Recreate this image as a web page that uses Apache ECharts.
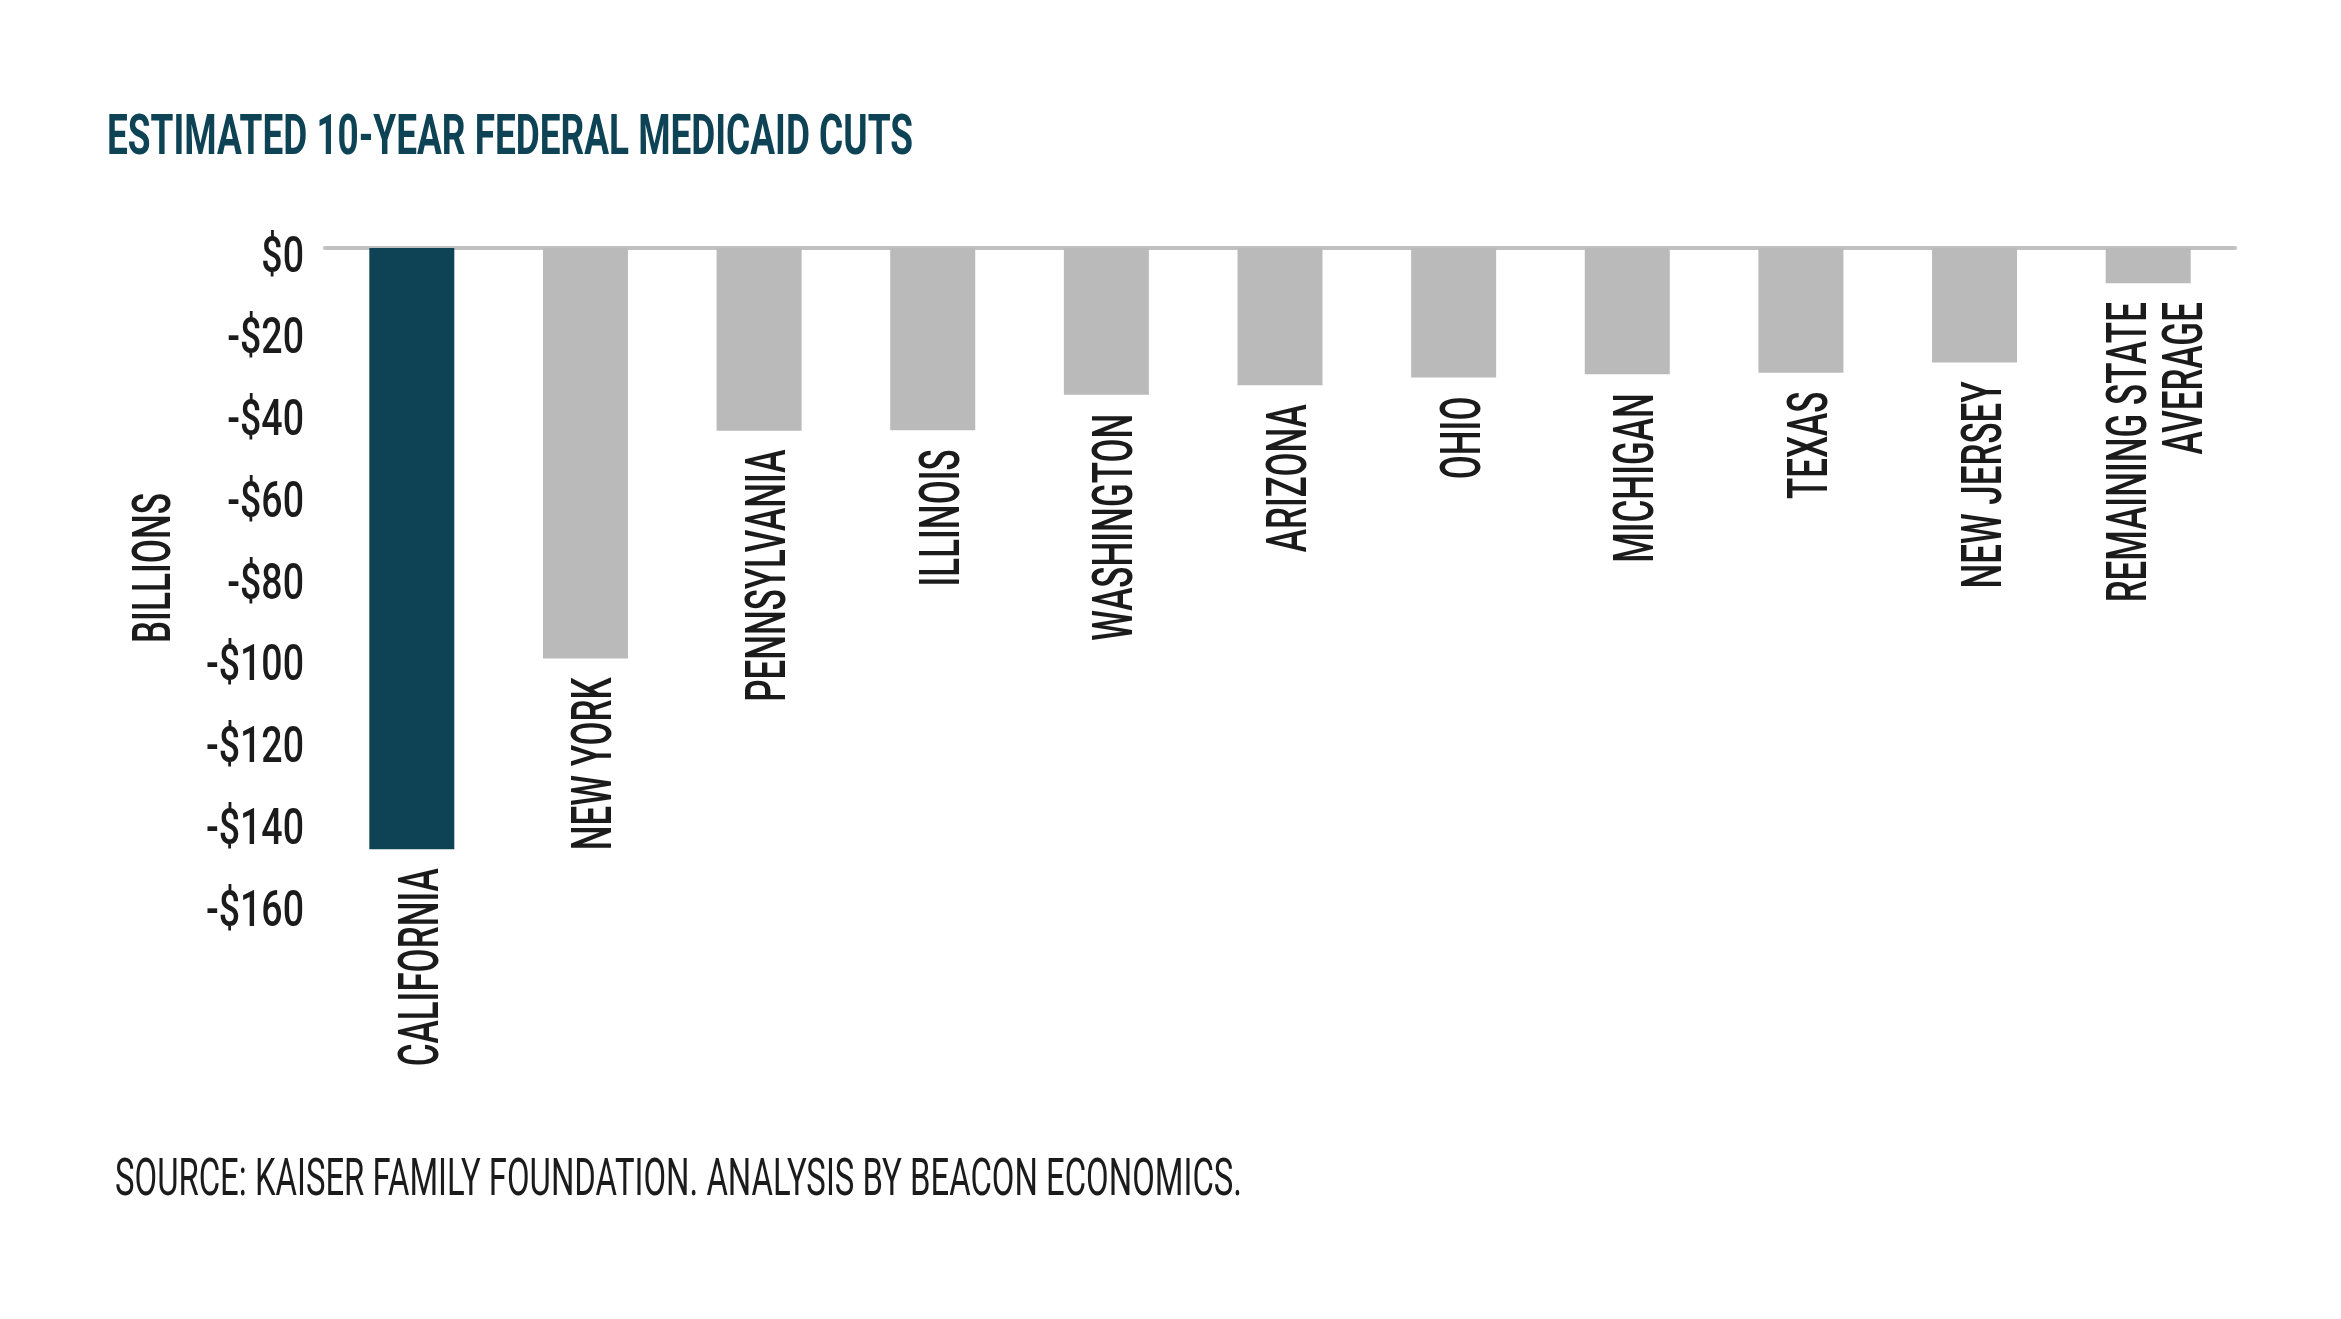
<!DOCTYPE html>
<html>
<head>
<meta charset="utf-8">
<script src="https://cdn.jsdelivr.net/npm/echarts@6/dist/echarts.min.js"></script>
<style>
  html, body { margin: 0; padding: 0; background: #ffffff; }
  #chart { width: 2341px; height: 1319px; }
</style>
</head>
<body>
<div id="chart"></div>
<script>
// ---- data ----
const titleText = 'ESTIMATED 10-YEAR FEDERAL MEDICAID CUTS';
const sourceText = 'SOURCE: KAISER FAMILY FOUNDATION. ANALYSIS BY BEACON ECONOMICS.';
const yAxisName = 'BILLIONS';
const categories = ['CALIFORNIA', 'NEW YORK', 'PENNSYLVANIA', 'ILLINOIS', 'WASHINGTON', 'ARIZONA', 'OHIO', 'MICHIGAN', 'TEXAS', 'NEW JERSEY', 'REMAINING STATE\nAVERAGE'];
const cuts = [-147.1, -100.4, -44.7, -44.6, -35.9, -33.6, -31.7, -30.9, -30.5, -28.0, -8.6];
const highlighted = ['CALIFORNIA'];
const yTicks = [0, -20, -40, -60, -80, -100, -120, -140, -160];
const yTickLabels = ['$0', '-$20', '-$40', '-$60', '-$80', '-$100', '-$120', '-$140', '-$160'];

// ---- styling ----
const FAMILY = "'Liberation Sans Narrow', 'Roboto', sans-serif";
const TEXT = '#1b1b1b';
const TEAL = '#0e4356';
const GRAY = '#bababa';

const mctx = document.createElement('canvas').getContext('2d');
function measure(text, size, weight) {
  mctx.font = weight + ' ' + size + 'px ' + FAMILY;
  return mctx.measureText(text).width;
}
// condensed look: horizontal squeeze computed from target widths
const catSize = 56, tickSize = 50, titleSize = 55, srcSize = 52, nameSize = 54;
const LABEL_W = 500;
const catScale = 198 / measure('CALIFORNIA', catSize, LABEL_W);
const tickScale = 98 / measure('-$160', tickSize, LABEL_W);
const titleScale = 806 / measure(titleText, titleSize, 'bold');
const srcScale = 1127 / measure(sourceText, srcSize, 'normal');
const nameScale = 150 / measure(yAxisName, nameSize, LABEL_W);

const chart = echarts.init(document.getElementById('chart'));

const option = {
  backgroundColor: '#ffffff',
  animation: false,
  grid: { left: 325, top: 248, width: 1910, height: 654, containLabel: false },
  xAxis: {
    type: 'category',
    data: categories,
    axisLine: { show: true, onZero: true, lineStyle: { color: '#c0c0c0', width: 4 } },
    axisTick: { show: false },
    axisLabel: { show: false },
    splitLine: { show: false }
  },
  yAxis: {
    type: 'value',
    min: -160,
    max: 0,
    interval: 20,
    axisLine: { show: false },
    axisTick: { show: false },
    axisLabel: { show: false },
    splitLine: { show: false }
  },
  graphic: [
    {
      type: 'text', x: 107, y: 140, scaleX: titleScale,
      style: { text: titleText, fontFamily: FAMILY, fontSize: titleSize, fontWeight: 'bold', fill: TEAL, align: 'left', verticalAlign: 'middle' }
    },
    {
      type: 'text', x: 115, y: 1182, scaleX: srcScale,
      style: { text: sourceText, fontFamily: FAMILY, fontSize: srcSize, fontWeight: 'normal', fill: TEXT, align: 'left', verticalAlign: 'middle' }
    },
    {
      type: 'text', x: 156, y: 568, rotation: Math.PI / 2, scaleX: nameScale,
      style: { text: yAxisName, fontFamily: FAMILY, fontSize: nameSize, fontWeight: LABEL_W, fill: TEXT, align: 'center', verticalAlign: 'middle' }
    }
  ],
  series: [
    {
      type: 'bar',
      barWidth: 85,
      z: 1,
      data: cuts.map((v, i) => ({
        value: v,
        itemStyle: { color: highlighted.includes(categories[i]) ? TEAL : GRAY }
      }))
    },
    {
      // category labels placed just below each bar end
      type: 'custom',
      clip: false,
      silent: true,
      z: 5,
      data: cuts.map((v, i) => [i, v]),
      encode: { x: 0, y: 1 },
      renderItem: function (params, api) {
        const pt = api.coord([api.value(0), api.value(1)]);
        return {
          type: 'text',
          x: pt[0] + 12,
          y: pt[1] + 19,
          rotation: Math.PI / 2,
          scaleX: catScale,
          style: {
            text: categories[params.dataIndex],
            fontFamily: FAMILY, fontSize: catSize, fontWeight: LABEL_W,
            lineHeight: 56,
            fill: TEXT, align: 'right', verticalAlign: 'middle'
          }
        };
      }
    },
    {
      // value-axis tick labels
      type: 'custom',
      clip: false,
      silent: true,
      z: 5,
      data: yTicks.map((t, i) => [0, t]),
      encode: { x: 0, y: 1 },
      renderItem: function (params, api) {
        const pt = api.coord([0, api.value(1)]);
        return {
          type: 'text',
          x: params.coordSys.x - 21,
          y: pt[1] + 11,
          scaleX: tickScale,
          style: {
            text: yTickLabels[params.dataIndex],
            fontFamily: FAMILY, fontSize: tickSize, fontWeight: LABEL_W,
            fill: TEXT, align: 'right', verticalAlign: 'middle'
          }
        };
      }
    }
  ]
};

chart.setOption(option);
</script>
</body>
</html>
